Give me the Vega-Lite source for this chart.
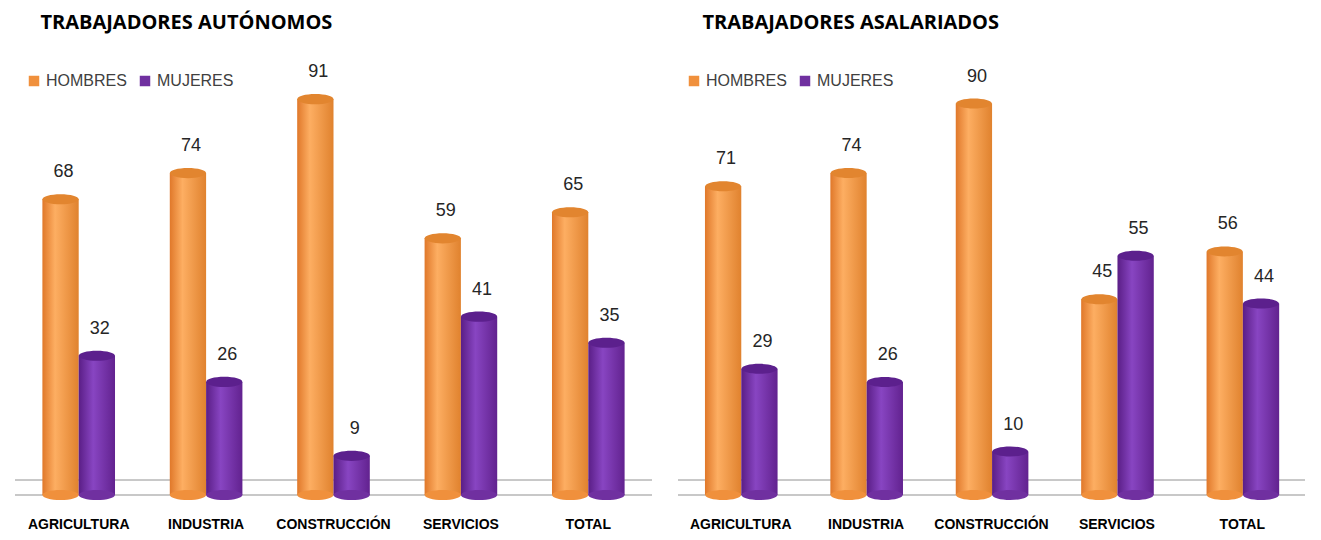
{
  "$schema": "https://vega.github.io/schema/vega-lite/v6.json",
  "background": "white",
  "padding": {"left": 14, "top": 13, "right": 5, "bottom": 5},
  "datasets": {
    "t": [
      {"panel": "A", "sector": "AGRICULTURA", "sexo": "HOMBRES", "valor": 68},
      {"panel": "A", "sector": "AGRICULTURA", "sexo": "MUJERES", "valor": 32},
      {"panel": "A", "sector": "INDUSTRIA", "sexo": "HOMBRES", "valor": 74},
      {"panel": "A", "sector": "INDUSTRIA", "sexo": "MUJERES", "valor": 26},
      {"panel": "A", "sector": "CONSTRUCCIÓN", "sexo": "HOMBRES", "valor": 91},
      {"panel": "A", "sector": "CONSTRUCCIÓN", "sexo": "MUJERES", "valor": 9},
      {"panel": "A", "sector": "SERVICIOS", "sexo": "HOMBRES", "valor": 59},
      {"panel": "A", "sector": "SERVICIOS", "sexo": "MUJERES", "valor": 41},
      {"panel": "A", "sector": "TOTAL", "sexo": "HOMBRES", "valor": 65},
      {"panel": "A", "sector": "TOTAL", "sexo": "MUJERES", "valor": 35},
      {"panel": "B", "sector": "AGRICULTURA", "sexo": "HOMBRES", "valor": 71},
      {"panel": "B", "sector": "AGRICULTURA", "sexo": "MUJERES", "valor": 29},
      {"panel": "B", "sector": "INDUSTRIA", "sexo": "HOMBRES", "valor": 74},
      {"panel": "B", "sector": "INDUSTRIA", "sexo": "MUJERES", "valor": 26},
      {"panel": "B", "sector": "CONSTRUCCIÓN", "sexo": "HOMBRES", "valor": 90},
      {"panel": "B", "sector": "CONSTRUCCIÓN", "sexo": "MUJERES", "valor": 10},
      {"panel": "B", "sector": "SERVICIOS", "sexo": "HOMBRES", "valor": 45},
      {"panel": "B", "sector": "SERVICIOS", "sexo": "MUJERES", "valor": 55},
      {"panel": "B", "sector": "TOTAL", "sexo": "HOMBRES", "valor": 56},
      {"panel": "B", "sector": "TOTAL", "sexo": "MUJERES", "valor": 44}
    ]
  },
  "spacing": 24,
  "resolve": {"legend": {"color": "independent"}},
  "config": {
    "view": {"stroke": null},
    "axisX": {"labelAngle": 0, "domain": false, "ticks": false, "grid": false, "labelPadding": 22, "labelFontSize": 14, "labelFont": "Liberation Sans", "labelFontWeight": "bold", "labelColor": "#000000", "title": null},
    "title": {"anchor": "start", "fontSize": 20, "font": "Open Sans", "fontWeight": "bold", "color": "#000000", "offset": 27}
  },
  "hconcat": [
    {
      "width": 637, "height": 435,
      "title": {"text": "TRABAJADORES AUTÓNOMOS", "dx": 26},
      "data": {"name": "t"},
      "transform": [{"filter": "datum.panel === 'A'"}],
      "layer": [
        {"mark": {"type": "rule", "color": "#C8C8C8", "strokeWidth": 1.2}, "encoding": {"y": {"datum": 0, "type": "quantitative", "scale": {"domain": [0, 100]}, "axis": null}}},
        {"mark": {"type": "rule", "color": "#C8C8C8", "strokeWidth": 1.2}, "encoding": {"y": {"datum": 3.5, "type": "quantitative", "axis": null}}},
        {
          "mark": {"type": "bar", "stroke": null},
          "encoding": {
            "x": {"field": "sector", "type": "nominal", "sort": ["AGRICULTURA", "INDUSTRIA", "CONSTRUCCIÓN", "SERVICIOS", "TOTAL"], "scale": {"paddingInner": 0.43, "paddingOuter": 0.215}},
            "xOffset": {"field": "sexo", "sort": ["HOMBRES", "MUJERES"]},
            "y": {"field": "valor", "type": "quantitative", "axis": null},
            "fill": {"condition": {"test": "datum.sexo === 'HOMBRES'", "value": {"gradient": "linear", "x1": 0, "x2": 1, "y1": 0, "y2": 0, "stops": [{"offset": 0, "color": "#E0782A"}, {"offset": 0.35, "color": "#FDAE62"}, {"offset": 1, "color": "#E0822E"}]}}, "value": {"gradient": "linear", "x1": 0, "x2": 1, "y1": 0, "y2": 0, "stops": [{"offset": 0, "color": "#5A1E86"}, {"offset": 0.4, "color": "#8845C2"}, {"offset": 1, "color": "#62228F"}]}}
          }
        },
        {
          "mark": {"type": "point", "filled": true, "opacity": 1, "shape": "M -1 0 A 1 0.28 0 1 0 1 0 A 1 0.28 0 1 0 -1 0 Z", "size": 1310},
          "encoding": {
            "x": {"field": "sector", "type": "nominal", "sort": ["AGRICULTURA", "INDUSTRIA", "CONSTRUCCIÓN", "SERVICIOS", "TOTAL"]},
            "xOffset": {"field": "sexo", "sort": ["HOMBRES", "MUJERES"]},
            "y": {"datum": 0, "type": "quantitative", "axis": null},
            "color": {"field": "sexo", "type": "nominal", "scale": {"domain": ["HOMBRES", "MUJERES"], "range": ["#F0903C", "#7030A0"]}, "legend": {"orient": "none", "legendX": 11, "legendY": 13, "direction": "horizontal", "title": null, "symbolType": "square", "symbolSize": 110, "labelFontSize": 16, "labelFont": "Liberation Sans", "labelColor": "#404040", "columnSpacing": 16, "symbolOffset": 0}}
          }
        },
        {
          "mark": {"type": "point", "filled": true, "opacity": 1, "shape": "M -1 0 A 1 0.28 0 1 0 1 0 A 1 0.28 0 1 0 -1 0 Z", "size": 1310},
          "encoding": {
            "x": {"field": "sector", "type": "nominal", "sort": ["AGRICULTURA", "INDUSTRIA", "CONSTRUCCIÓN", "SERVICIOS", "TOTAL"]},
            "xOffset": {"field": "sexo", "sort": ["HOMBRES", "MUJERES"]},
            "y": {"field": "valor", "type": "quantitative", "axis": null},
            "fill": {"condition": {"test": "datum.sexo === 'HOMBRES'", "value": "#E2852F"}, "value": "#5C208D"}
          }
        },
        {
          "mark": {"type": "text", "baseline": "bottom", "dy": -18, "dx": 3, "fontSize": 18, "font": "Liberation Sans", "color": "#262626"},
          "encoding": {
            "x": {"field": "sector", "type": "nominal", "sort": ["AGRICULTURA", "INDUSTRIA", "CONSTRUCCIÓN", "SERVICIOS", "TOTAL"]},
            "xOffset": {"field": "sexo", "sort": ["HOMBRES", "MUJERES"]},
            "y": {"field": "valor", "type": "quantitative", "axis": null},
            "text": {"field": "valor"}
          }
        }
      ]
    },
    {
      "width": 627, "height": 435,
      "title": {"text": "TRABAJADORES ASALARIADOS", "dx": 25},
      "data": {"name": "t"},
      "transform": [{"filter": "datum.panel === 'B'"}],
      "layer": [
        {"mark": {"type": "rule", "color": "#C8C8C8", "strokeWidth": 1.2}, "encoding": {"y": {"datum": 0, "type": "quantitative", "scale": {"domain": [0, 100]}, "axis": null}}},
        {"mark": {"type": "rule", "color": "#C8C8C8", "strokeWidth": 1.2}, "encoding": {"y": {"datum": 3.5, "type": "quantitative", "axis": null}}},
        {
          "mark": {"type": "bar", "stroke": null},
          "encoding": {
            "x": {"field": "sector", "type": "nominal", "sort": ["AGRICULTURA", "INDUSTRIA", "CONSTRUCCIÓN", "SERVICIOS", "TOTAL"], "scale": {"paddingInner": 0.43, "paddingOuter": 0.215}},
            "xOffset": {"field": "sexo", "sort": ["HOMBRES", "MUJERES"]},
            "y": {"field": "valor", "type": "quantitative", "axis": null},
            "fill": {"condition": {"test": "datum.sexo === 'HOMBRES'", "value": {"gradient": "linear", "x1": 0, "x2": 1, "y1": 0, "y2": 0, "stops": [{"offset": 0, "color": "#E0782A"}, {"offset": 0.35, "color": "#FDAE62"}, {"offset": 1, "color": "#E0822E"}]}}, "value": {"gradient": "linear", "x1": 0, "x2": 1, "y1": 0, "y2": 0, "stops": [{"offset": 0, "color": "#5A1E86"}, {"offset": 0.4, "color": "#8845C2"}, {"offset": 1, "color": "#62228F"}]}}
          }
        },
        {
          "mark": {"type": "point", "filled": true, "opacity": 1, "shape": "M -1 0 A 1 0.28 0 1 0 1 0 A 1 0.28 0 1 0 -1 0 Z", "size": 1280},
          "encoding": {
            "x": {"field": "sector", "type": "nominal", "sort": ["AGRICULTURA", "INDUSTRIA", "CONSTRUCCIÓN", "SERVICIOS", "TOTAL"]},
            "xOffset": {"field": "sexo", "sort": ["HOMBRES", "MUJERES"]},
            "y": {"datum": 0, "type": "quantitative", "axis": null},
            "color": {"field": "sexo", "type": "nominal", "scale": {"domain": ["HOMBRES", "MUJERES"], "range": ["#F0903C", "#7030A0"]}, "legend": {"orient": "none", "legendX": 8, "legendY": 13, "direction": "horizontal", "title": null, "symbolType": "square", "symbolSize": 110, "labelFontSize": 16, "labelFont": "Liberation Sans", "labelColor": "#404040", "columnSpacing": 16, "symbolOffset": 0}}
          }
        },
        {
          "mark": {"type": "point", "filled": true, "opacity": 1, "shape": "M -1 0 A 1 0.28 0 1 0 1 0 A 1 0.28 0 1 0 -1 0 Z", "size": 1280},
          "encoding": {
            "x": {"field": "sector", "type": "nominal", "sort": ["AGRICULTURA", "INDUSTRIA", "CONSTRUCCIÓN", "SERVICIOS", "TOTAL"]},
            "xOffset": {"field": "sexo", "sort": ["HOMBRES", "MUJERES"]},
            "y": {"field": "valor", "type": "quantitative", "axis": null},
            "fill": {"condition": {"test": "datum.sexo === 'HOMBRES'", "value": "#E2852F"}, "value": "#5C208D"}
          }
        },
        {
          "mark": {"type": "text", "baseline": "bottom", "dy": -18, "dx": 3, "fontSize": 18, "font": "Liberation Sans", "color": "#262626"},
          "encoding": {
            "x": {"field": "sector", "type": "nominal", "sort": ["AGRICULTURA", "INDUSTRIA", "CONSTRUCCIÓN", "SERVICIOS", "TOTAL"]},
            "xOffset": {"field": "sexo", "sort": ["HOMBRES", "MUJERES"]},
            "y": {"field": "valor", "type": "quantitative", "axis": null},
            "text": {"field": "valor"}
          }
        }
      ]
    }
  ]
}
